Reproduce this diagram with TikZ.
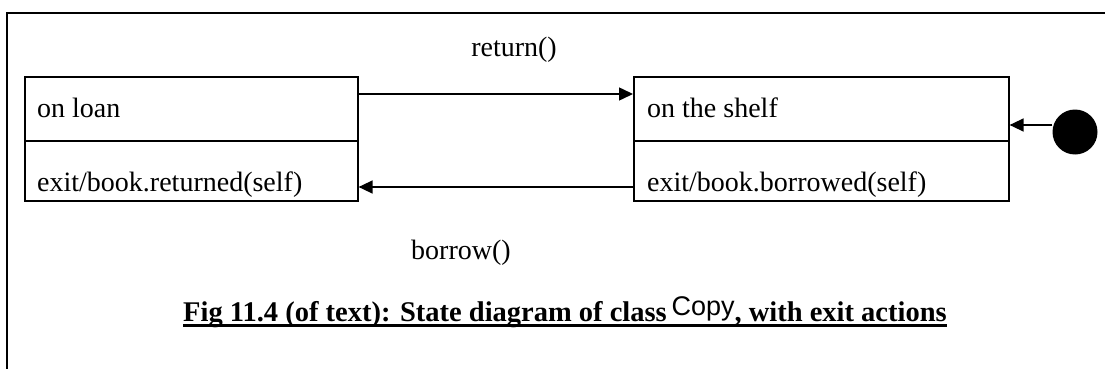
\documentclass[tikz,border=0pt]{standalone}
\usepackage{fontspec}
\setmainfont{Liberation Serif}
\newfontfamily\capsans{Liberation Sans}
\usetikzlibrary{arrows.meta}

\begin{document}
\begin{tikzpicture}[x=1pt,y=-1pt,
  statepart/.style={draw,line width=1.6pt,minimum width=333pt,inner sep=0pt,anchor=north west},
  label/.style={font=\fontsize{28}{32}\selectfont,inner sep=0pt},
  trans/.style={line width=1.5pt,-{Triangle[length=14pt,width=13pt]}},
  frame/.style={line width=2.4pt}
]
\useasboundingbox (0,0) rectangle (1105,369);

% page frame
\coordinate (fTL) at (7,13);
\coordinate (fTR) at (1105,13);
\coordinate (fBL) at (7,369);
\draw[frame] (fTR) -- (fTL) -- (fBL);

% state "on loan"
\node[statepart,minimum height=64pt] (loanTop) at (24,76) {};
\node[statepart,minimum height=60pt] (loanBot) at (24,140) {};
\node[label,anchor=base west] (loanName) at (37,117) {on loan};
\node[label,anchor=base west] (loanExit) at (37,191) {exit/book.returned(self)};

% state "on the shelf"
\node[statepart,minimum width=375pt,minimum height=64pt] (shelfTop) at (633,76) {};
\node[statepart,minimum width=375pt,minimum height=60pt] (shelfBot) at (633,140) {};
\node[label,anchor=base west] (shelfName) at (647,117) {on the shelf};
\node[label,anchor=base west] (shelfExit) at (647,191) {exit/book.borrowed(self)};

% initial state
\node[circle,fill=black,minimum size=45pt,inner sep=0pt] (init) at (1075,132) {};

% transitions
\draw[trans] (loanTop.east |- 0,94) -- (shelfTop.west |- 0,94);
\draw[trans] (shelfBot.west |- 0,187) -- (loanBot.east |- 0,187);
\draw[trans] (init.west |- 0,125) -- (shelfTop.east |- 0,125);

% transition labels
\node[label] (retLbl) at (514,50) {return()};
\node[label] (borLbl) at (461,253) {borrow()};

% caption
\node[label,anchor=base west,font=\fontsize{28.5}{32}\selectfont\bfseries] (cap) at (183,321)
  {Fig 11.4 (of text): State diagram of class\,\raisebox{6pt}{\capsans\mdseries\fontsize{27}{30}\selectfont Copy}, with exit actions};
\draw[line width=2.4pt] ([yshift=-4.5pt]cap.base west) -- ([yshift=-4.5pt]cap.base east);
\end{tikzpicture}
\end{document}
